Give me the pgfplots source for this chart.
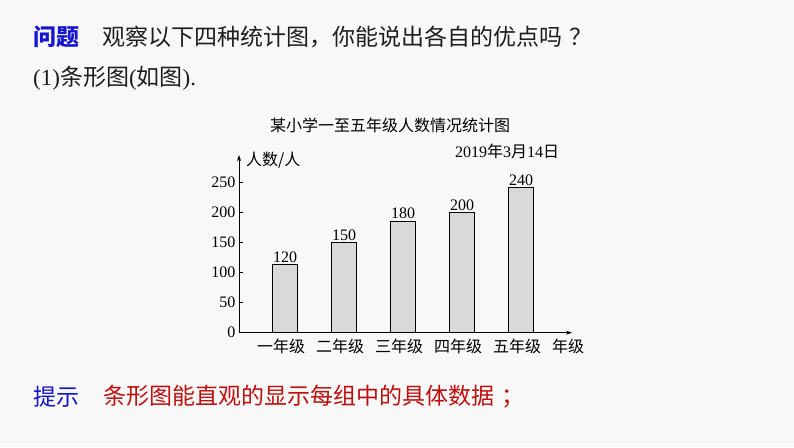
\documentclass[border=0pt]{standalone}
\usepackage{pgfplots}
\pgfplotsset{compat=1.18}
\usepackage{pgfplotstable}
\usetikzlibrary{arrows.meta}
\usepackage{fontspec}
\setmainfont{Liberation Serif}
\newfontfamily\cjk{Noto Sans CJK SC}
\newfontfamily\song{Noto Sans CJK SC}
\definecolor{qblue}{RGB}{20,20,210}
\definecolor{hred}{RGB}{190,15,15}
\definecolor{txt}{RGB}{30,30,30}
\definecolor{barfill}{RGB}{217,217,217}
\definecolor{bg}{RGB}{248,248,248}

\pgfplotstableread{
x y lab
0 114 120
1 150 150
2 186 180
3 200 200
4 242 240
}\grades

\begin{document}
\begin{tikzpicture}[x=1pt,y=1pt]
\fill[bg] (0,0) rectangle (794,447);
\useasboundingbox (0,0) rectangle (794,447);

% slide text
\node[anchor=west,inner sep=0,font=\cjk\bfseries\fontsize{23}{23}\selectfont,text=qblue] at (33,410) {问题};
\node[anchor=west,inner sep=0,font=\cjk\fontsize{23}{23}\selectfont,text=txt] at (102,410) {观察以下四种统计图，你能说出各自的优点吗\hspace{7pt}？};
\node[anchor=west,inner sep=0,font=\fontsize{23}{23}\selectfont,text=txt] at (33,369) {(1){\cjk 条形图}({\cjk 如图}).};
\node[anchor=west,inner sep=0,font=\cjk\fontsize{23}{23}\selectfont,text=qblue] at (33,50) {提示};
\node[anchor=west,inner sep=0,font=\cjk\fontsize{23}{23}\selectfont,text=hred] at (103,50) {条形图能直观的显示每组中的具体数据\hspace{7pt}；};

% chart texts
\node[inner sep=0,font=\song\fontsize{16}{16}\selectfont] at (390,322) {某小学一至五年级人数情况统计图};
\node[anchor=west,inner sep=0,font=\fontsize{16}{16}\selectfont] at (455,295.3) {2019{\song 年}3{\song 月}14{\song 日}};
\node[anchor=west,inner sep=0,font=\song\fontsize{16}{16}\selectfont] at (246,287) {人数/人};
\node[anchor=west,inner sep=0,font=\song\fontsize{16}{16}\selectfont] at (552,100.3) {年级};

\begin{axis}[
  at={(239pt,114.3pt)}, anchor=south west,
  scale only axis, width=333pt, height=177.7pt,
  xmin=-0.78, xmax=4.864, ymin=0, ymax=296,
  axis x line=bottom, axis y line=left,
  axis line style={line width=0.8pt,-{Stealth[length=6pt,width=4pt]}},
  ytick={0,50,...,250},
  xtick={0,...,4},
  xticklabels={一年级,二年级,三年级,四年级,五年级},
  xtick style={draw=none},
  ytick style={line width=0.6pt,black},
  tick align=inside, major tick length=4pt,
  /pgf/number format/assume math mode=true,
  yticklabel style={font=\fontsize{16}{16}\selectfont},
  xticklabel style={font=\song\fontsize{16}{16}\selectfont,xshift=-4pt,yshift=-3pt},
  clip=false,
]
\addplot[ybar, bar width=25pt, fill=barfill, draw=black, line width=0.8pt,
  nodes near coords, point meta=explicit symbolic,
  nodes near coords style={font=\fontsize{16}{16}\selectfont,inner sep=1.5pt}]
  table[x=x,y=y,meta=lab]{\grades};
\end{axis}
\end{tikzpicture}
\end{document}
